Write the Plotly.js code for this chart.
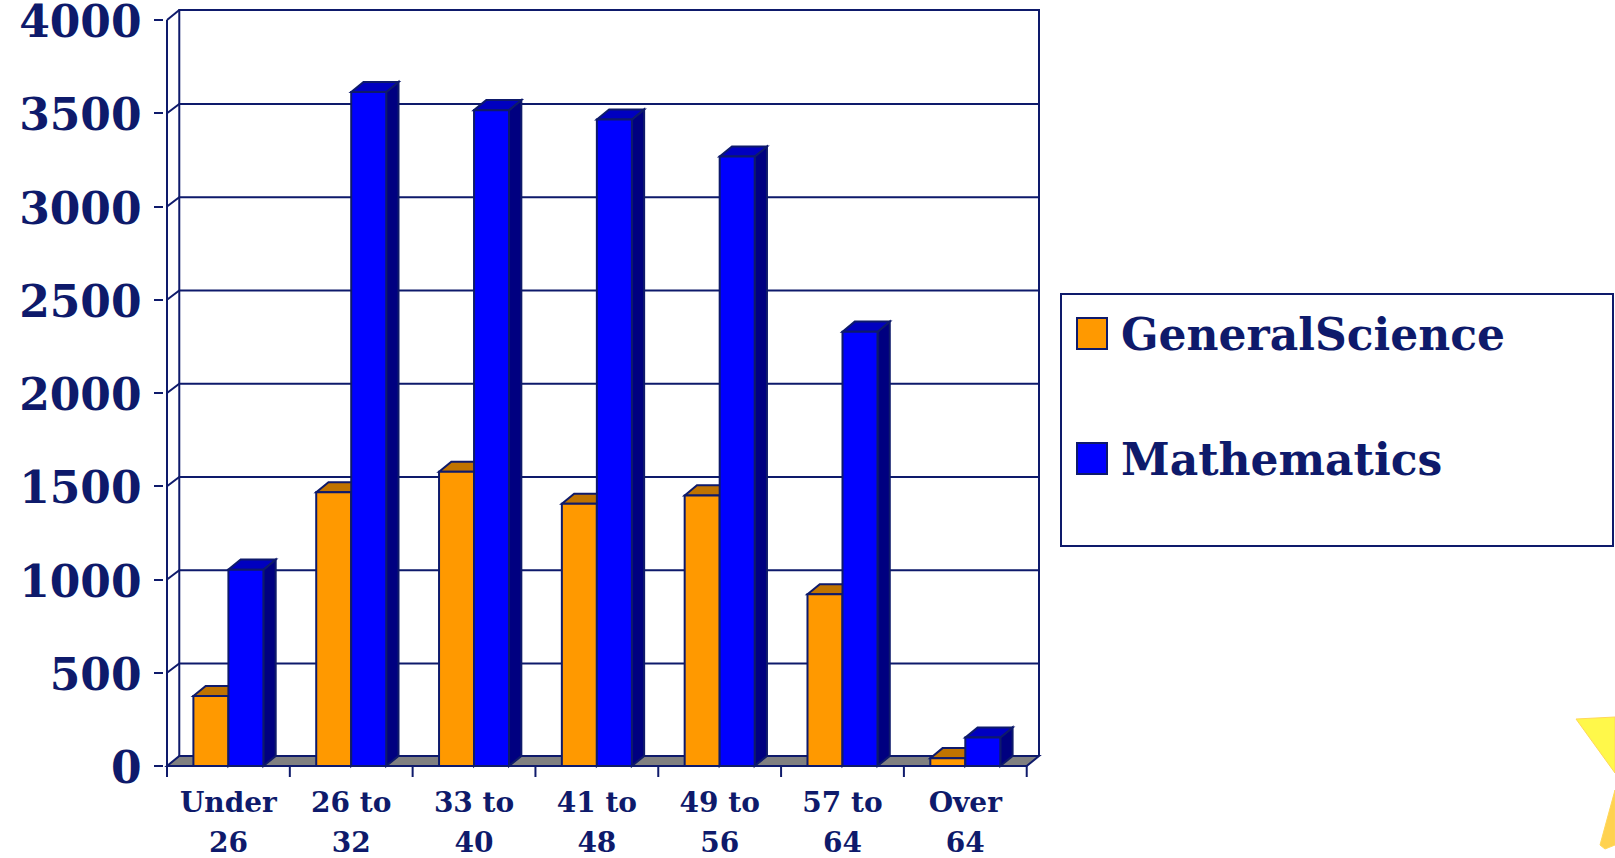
<!DOCTYPE html>
<html>
<head>
<meta charset="utf-8">
<script src="https://cdn.plot.ly/plotly-3.0.1.min.js"></script>
<style>html,body{margin:0;padding:0;background:#fff}#c{width:1615px;height:858px}</style>
</head>
<body>
<div id="c"></div>
<script>
var categories = ['Under<br>26','26 to<br>32','33 to<br>40','41 to<br>48','49 to<br>56','57 to<br>64','Over<br>64'];
var generalScience = [375,1468,1578,1406,1451,921,42];
var mathematics = [1053,3614,3517,3467,3268,2329,153];
var yTicks = [0,500,1000,1500,2000,2500,3000,3500,4000];
var seriesNames = ['GeneralScience','Mathematics'];

var NAVY = '#0E1A6B', FONT = '"DejaVu Serif", serif';
var L = 164, R = 1042, T = 7, B = 769;
var DX = 0.1, DY = 54, BW = 0.285;
var px = function (x) { return (x - L) / (R - L); };
var py = function (y) { return (B - y) / (B - T); };

var shapes = [];
function path(pts, fill, width) {
  shapes.push({type:'path', layer:'below', xref:'x', yref:'y',
    path:'M' + pts.map(function(p){return p[0]+','+p[1];}).join(' L') + (fill ? ' Z' : ''),
    fillcolor: fill || 'rgba(0,0,0,0)', line:{color:NAVY, width: width || 2}});
}
var xa = -0.5, xb = 6.5;
// floor
path([[xa,0],[xa+DX,DY],[xb+DX,DY],[xb,0]], '#808080');
// walls and gridlines
path([[xa+DX,DY],[xa+DX,4000+DY],[xb+DX,4000+DY],[xb+DX,DY]]);
path([[xa,0],[xa,4000]]);
yTicks.forEach(function (v) {
  if (v > 0 && v < 4000) path([[xa,v],[xa+DX,v+50],[xb+DX,v+50]]);
  if (v === 4000) path([[xa,v],[xa+DX,v+DY]]);
});
// x tick marks at the category boundaries
for (var k = 0; k <= categories.length; k++) {
  shapes.push({type:'line', layer:'below', xref:'x', yref:'paper', x0:k-0.5, x1:k-0.5,
    y0:py(766), y1:py(777), line:{color:NAVY, width:2}});
}
// 3D faces of the bars, derived from the values
function faces(values, left, top, side) {
  values.forEach(function (v, i) {
    var a = i + left, b = a + BW;
    path([[b,0],[b+DX,DY],[b+DX,v+DY],[b,v]], side);
    path([[a,v],[a+DX,v+DY],[b+DX,v+DY],[b,v]], top);
  });
}
faces(generalScience, -BW, '#C07300', '#C07300');
faces(mathematics, 0, '#0000C0', '#000080');

// legend box and swatches
shapes.push({type:'rect', xref:'paper', yref:'paper', x0:px(1061), x1:px(1613), y0:py(294), y1:py(546),
  fillcolor:'#fff', line:{color:NAVY, width:2}});
[[318,'#FF9900'],[443,'#0000FF']].forEach(function (s) {
  shapes.push({type:'rect', xref:'paper', yref:'paper', x0:px(1077), x1:px(1107), y0:py(s[0]), y1:py(s[0]+31),
    fillcolor:s[1], line:{color:NAVY, width:2}});
});
// clip-art star fragment in the corner
shapes.push({type:'path', xref:'paper', yref:'paper',
  path:['M',px(1576),py(719),'L',px(1615),py(717),'L',px(1615),py(773),'Z'].join(' ').replace(/(\d) (-?\d)/g,'$1,$2'),
  fillcolor:'#FFF84A', line:{color:'#FFD75A', width:1}});
shapes.push({type:'path', xref:'paper', yref:'paper',
  path:['M',px(1615),py(790),'L',px(1600),py(845),'L',px(1605),py(849),'L',px(1615),py(845),'Z'].join(' ').replace(/(\d) (-?\d)/g,'$1,$2'),
  fillcolor:'#FFD24F', line:{color:'#FFD75A', width:1}});

var annotations = [[334,seriesNames[0]],[459,seriesNames[1]]].map(function (a) {
  return {xref:'paper', yref:'paper', x:px(1119), y:py(a[0]), xanchor:'left', yanchor:'middle',
    text:a[1], showarrow:false, font:{family:FONT, size:44, color:NAVY, weight:'bold'}};
});

// x labels: line spacing follows the axis font size, glyphs are set a little smaller
var xTickText = categories.map(function (c) {
  return c.split('<br>').map(function (s) {
    return '<span style="font-size:28px">' + s + '</span>';
  }).join('<br>');
});
// y labels: an empty first line nudges the number a few pixels below its tick
var yTickText = yTicks.map(function (v) {
  return '<br><span style="font-size:44px">' + v + '</span>';
});

var traces = [
  {type:'bar', name:seriesNames[0], x:categories, y:generalScience,
   marker:{color:'#FF9900', line:{color:NAVY, width:2}}},
  {type:'bar', name:seriesNames[1], x:categories, y:mathematics,
   marker:{color:'#0000FF', line:{color:NAVY, width:2}}}
];
var layout = {
  width:1615, height:858, showlegend:false,
  paper_bgcolor:'#fff', plot_bgcolor:'rgba(0,0,0,0)',
  margin:{l:L, r:1615-R, t:T, b:858-B, pad:0},
  barmode:'group', bargap:1-2*BW, bargroupgap:0,
  xaxis:{type:'category', categoryorder:'array', categoryarray:categories, tickmode:'array', tickvals:categories, ticktext:xTickText,
    range:[-0.5-3/122.86, 6.6+3/122.86], showgrid:false, zeroline:false, showline:false, ticks:'', ticklabelstandoff:11,
    ticklabeloverflow:'allow',
    tickfont:{family:FONT, size:31, color:NAVY, weight:'bold'}},
  yaxis:{range:[-16,4070], tickmode:'array', tickvals:yTicks, ticktext:yTickText, showgrid:false, zeroline:false, showline:false,
    ticks:'outside', ticklen:9, tickwidth:2, tickcolor:NAVY, ticklabelstandoff:9, ticklabeloverflow:'allow',
    tickfont:{family:FONT, size:17, color:NAVY, weight:'bold'}},
  shapes:shapes, annotations:annotations
};
Plotly.newPlot('c', traces, layout, {displayModeBar:false, staticPlot:true});
</script>
</body>
</html>
